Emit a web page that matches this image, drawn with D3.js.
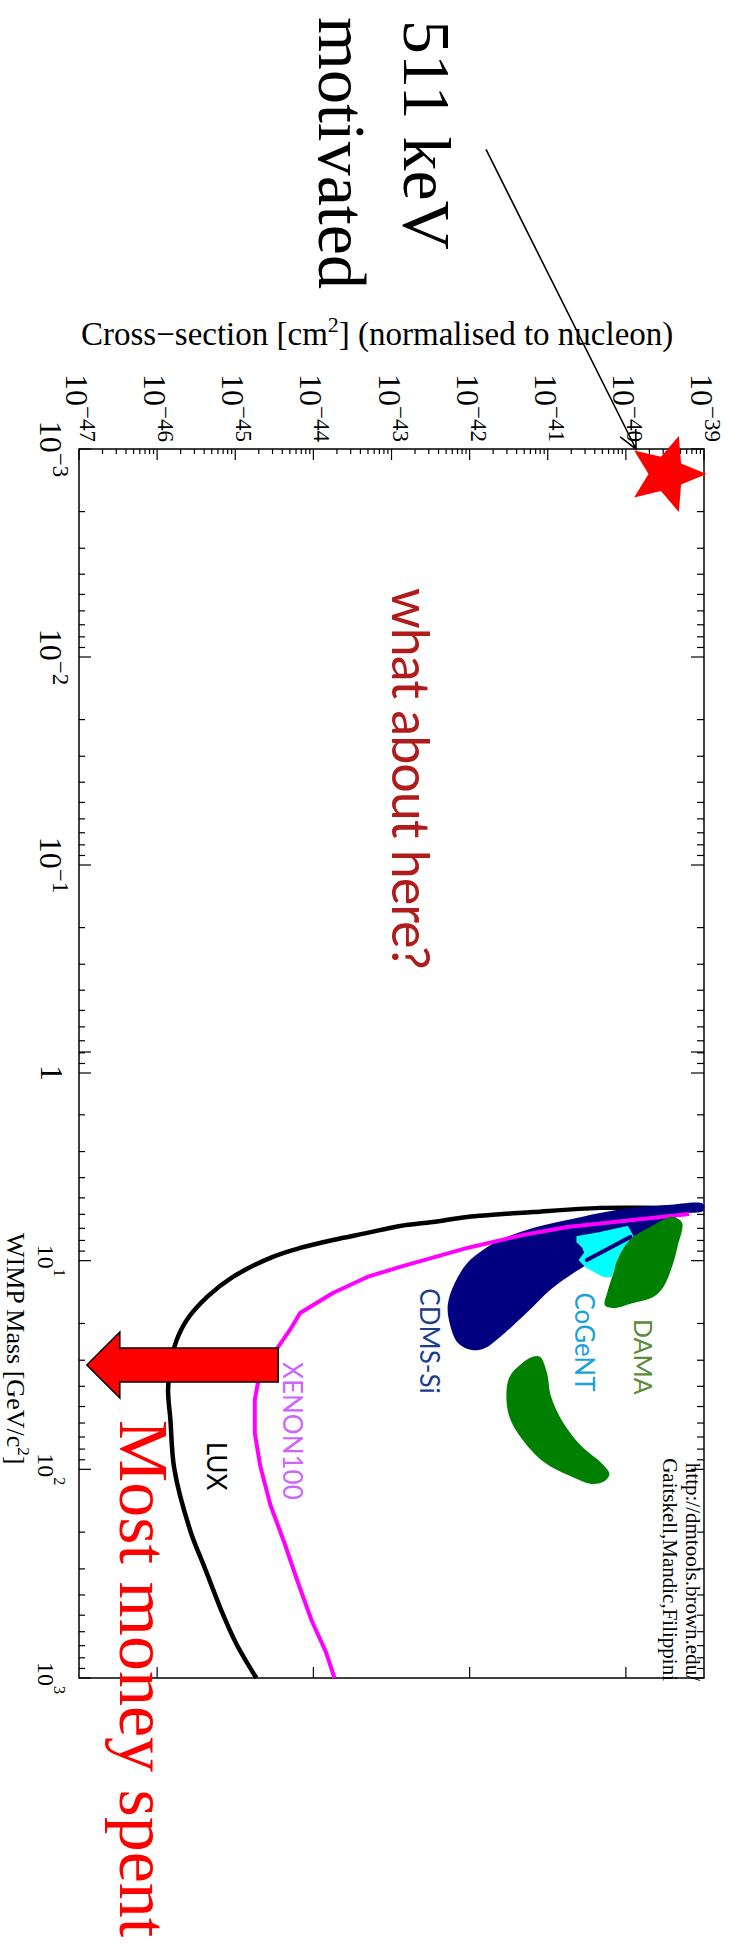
<!DOCTYPE html>
<html>
<head>
<meta charset="utf-8">
<script src="https://cdn.jsdelivr.net/npm/d3@7"></script>
<style>
  body { margin: 0; background: #fff; }
  svg { display: block; }
</style>
</head>
<body>
<div id="chart"></div>
<script>
// values as log10 (mass in GeV/c^2, cross-section in cm^2)
const luxLogMass  = [0.743, 0.747, 0.747, 0.767, 0.791, 0.815, 0.834, 0.867, 0.901, 0.939, 0.982, 1.078, 1.174, 1.284, 1.380, 1.490, 1.620, 1.763, 1.998, 2.300, 2.472, 2.693, 2.841, 3.0]
const luxLogSigma = [-39.18, -39.47, -40.33, -41.19, -42.03, -42.47, -42.89, -43.31, -43.75, -44.17, -44.52, -45.03, -45.36, -45.62, -45.75, -45.83, -45.86, -45.83, -45.78, -45.57, -45.39, -45.16, -44.98, -44.73]

const xenonLogMass  = [0.776, 0.805, 0.839, 0.877, 0.939, 1.030, 1.078, 1.155, 1.251, 1.332, 1.413, 1.500, 1.586, 1.667, 1.826, 1.984, 2.171, 2.353, 2.540, 2.727, 2.875, 3.0]
const xenonLogSigma = [-39.19, -39.91, -40.75, -41.32, -42.03, -42.89, -43.31, -43.75, -44.17, -44.30, -44.45, -44.58, -44.71, -44.75, -44.75, -44.68, -44.55, -44.37, -44.20, -44.02, -43.84, -43.73]

const cdmsLogMass  = [0.728, 0.733, 0.747, 0.771, 0.805, 0.843, 0.901, 0.949, 1.011, 1.107, 1.212, 1.308, 1.394, 1.428, 1.418, 1.366, 1.246, 1.140, 1.059, 0.963, 0.901, 0.839, 0.776, 0.762]
const cdmsLogSigma = [-39.01, -39.47, -39.91, -40.33, -40.75, -41.19, -41.61, -41.83, -42.03, -42.19, -42.28, -42.25, -42.15, -41.97, -41.80, -41.61, -41.26, -40.97, -40.67, -40.24, -39.91, -39.56, -39.27, -39.01]
const cdmsFitLogMass  = [0.886, 0.997]
const cdmsFitLogSigma = [-39.94, -40.50]

const cogentLogMass  = [0.886, 0.867, 0.839, 0.886, 0.934, 0.982, 1.073, 1.073, 1.030, 0.997, 0.963, 0.934, 0.910]
const cogentLogSigma = [-40.62, -40.33, -39.98, -39.91, -40.03, -40.11, -40.19, -40.29, -40.50, -40.59, -40.52, -40.55, -40.62]

const dama1LogMass  = [0.791, 0.819, 0.934, 1.030, 1.126, 1.174, 1.203, 1.227, 1.212, 1.155, 1.059, 0.997, 0.901, 0.839, 0.795]
const dama1LogSigma = [-39.39, -39.28, -39.34, -39.41, -39.52, -39.65, -39.91, -40.16, -40.27, -40.24, -40.16, -40.11, -39.95, -39.69, -39.47]
const dama2LogMass  = [1.461, 1.538, 1.648, 1.778, 1.888, 1.974, 2.022, 2.056, 2.070, 2.036, 1.965, 1.850, 1.749, 1.648, 1.557, 1.495, 1.461]
const dama2LogSigma = [-41.10, -41.01, -40.96, -40.80, -40.57, -40.30, -40.21, -40.27, -40.44, -40.69, -41.05, -41.34, -41.49, -41.53, -41.49, -41.34, -41.19]

// experiment labels: name, log mass, log sigma (baseline point), colour
const labelNames    = ["DAMA", "CoGeNT", "CDMS-Si", "XENON100", "LUX"]
const labelLogMass  = [1.461, 1.390, 1.385, 1.816, 1.984]
const labelLogSigma = [-39.89, -40.65, -42.63, -44.39, -45.36]
const labelColors   = ["#5b8c3a", "#19a1dc", "#1c3d8c", "#cc66ff", "#000000"]

// tick values
const sigmaExponents = [-47, -46, -45, -44, -43, -42, -41, -40, -39]
const sigmaBottomExponents = [-46, -44, -42, -40]
const massLowExponents = [-3, -2, -1, 0]
const massHighExponents = [0, 1, 2, 3]

// annotations (log mass, log sigma)
const starLogMass = -2.88, starLogSigma = -39.48
const pointerFrom = [-4.44, -41.79], pointerTo = [-3.0, -39.87]
const bigArrowLogMass = 1.50, bigArrowFromLogSigma = -44.45, bigArrowToLogSigma = -46.90

const width = 729
const height = 1957
const frame = {left: 79, right: 704, top: 449, bottom: 1678}

const svg = d3.select("#chart")
  .append("svg")
  .attr("width", width)
  .attr("height", height)
  .attr("viewBox", [0, 0, width, height])

const serif = "'Liberation Serif', 'Times New Roman', serif"
const sans = "Lato, 'Open Sans', sans-serif"

const x = d3.scaleLog().domain([1e-47, 1e-39]).range([frame.left, frame.right])
// the mass axis was pasted from two panels that overlap a little around 1 GeV
const yLow = d3.scaleLog().domain([1e-3, 1]).range([frame.top, 1073])
const yHigh = d3.scaleLog().domain([1, 1e3]).range([1052, frame.bottom])
const y = lm => lm < 0 ? yLow(10 ** lm) : yHigh(10 ** lm)
const xs = ls => x(10 ** ls)

const pts = (lm, ls) => lm.map((m, i) => [xs(ls[i]), y(m)])

const layer_frame = svg.append("g")
const layer_data = svg.append("g")
const layer_text = svg.append("g")

// ---- data ----
const line = d3.line().curve(d3.curveCatmullRom.alpha(0.5))
const blob = d3.line().curve(d3.curveCatmullRomClosed.alpha(0.5))

layer_data.append("path")
  .attr("d", line(pts(luxLogMass, luxLogSigma)))
  .attr("fill", "none").attr("stroke", "#000").attr("stroke-width", 4.5)

layer_data.append("path")
  .attr("d", blob(pts(cdmsLogMass, cdmsLogSigma)))
  .attr("fill", "#000080")

layer_data.append("path")
  .attr("d", d3.line()(pts(xenonLogMass, xenonLogSigma)))
  .attr("fill", "none").attr("stroke", "#ff00ff").attr("stroke-width", 4)
  .attr("stroke-linejoin", "round")

layer_data.append("path")
  .attr("d", d3.line().curve(d3.curveLinearClosed)(pts(cogentLogMass, cogentLogSigma)))
  .attr("fill", "#00ffff").attr("stroke", "#00ffff").attr("stroke-width", 2)
  .attr("stroke-linejoin", "round")

layer_data.append("path")
  .attr("d", d3.line()(pts(cdmsFitLogMass, cdmsFitLogSigma)))
  .attr("stroke", "#000080").attr("stroke-width", 4).attr("stroke-linecap", "round")

layer_data.append("path")
  .attr("d", blob(pts(dama1LogMass, dama1LogSigma)))
  .attr("fill", "#008000")
layer_data.append("path")
  .attr("d", blob(pts(dama2LogMass, dama2LogSigma)))
  .attr("fill", "#008000")

labelNames.forEach((name, i) => {
  layer_data.append("text")
    .attr("transform", `translate(${xs(labelLogSigma[i])},${y(labelLogMass[i])}) rotate(90)`)
    .attr("text-anchor", "middle")
    .attr("font-family", sans)
    .attr("font-size", name === "DAMA" ? 25 : 26)
    .attr("fill", labelColors[i])
    .text(name)
})

// ---- frame and ticks ----
layer_frame.append("rect")
  .attr("x", frame.left).attr("y", frame.top)
  .attr("width", frame.right - frame.left).attr("height", frame.bottom - frame.top)
  .attr("fill", "none").attr("stroke", "#000").attr("stroke-width", 1.5)

const sigmaTicks = []
sigmaExponents.forEach(e => {
  for (let k = 1; k < 10; k++) {
    if (e === -39 && k > 1) break
    sigmaTicks.push({v: k * 10 ** e, major: k === 1})
  }
})
layer_frame.append("g").selectAll("line")
  .data(sigmaTicks).join("line")
  .attr("x1", d => x(d.v)).attr("x2", d => x(d.v))
  .attr("y1", frame.top).attr("y2", d => frame.top + (d.major ? 11 : 5))
  .attr("stroke", "#000").attr("stroke-width", 1.2)

layer_frame.append("g").selectAll("line")
  .data(sigmaBottomExponents).join("line")
  .attr("x1", e => xs(e)).attr("x2", e => xs(e))
  .attr("y1", frame.bottom).attr("y2", frame.bottom - 11)
  .attr("stroke", "#000").attr("stroke-width", 1.2)

const massTicks = []
massLowExponents.forEach(e => {
  for (let k = 1; k < 10; k++) {
    if (e === 0 && k > 1) break
    massTicks.push({py: yLow(k * 10 ** e), major: k === 1})
  }
})
massHighExponents.forEach(e => {
  for (let k = 1; k < 10; k++) {
    if (e === 3 && k > 1) break
    massTicks.push({py: yHigh(k * 10 ** e), major: k === 1})
  }
})
const mt = layer_frame.append("g")
mt.selectAll(".l").data(massTicks).join("line").attr("class", "l")
  .attr("x1", frame.left).attr("x2", d => frame.left + (d.major ? 12 : 6))
  .attr("y1", d => d.py).attr("y2", d => d.py)
  .attr("stroke", "#000").attr("stroke-width", 1.2)
mt.selectAll(".r").data(massTicks).join("line").attr("class", "r")
  .attr("x1", frame.right).attr("x2", d => frame.right - (d.major ? 13 : 7))
  .attr("y1", d => d.py).attr("y2", d => d.py)
  .attr("stroke", "#000").attr("stroke-width", 1.2)

// ---- tick labels (everything is turned a quarter turn clockwise) ----
function powText(g, px, py, anchor, size, supSize, rise, base, exp) {
  const t = g.append("text")
    .attr("transform", `translate(${px},${py}) rotate(90)`)
    .attr("text-anchor", anchor)
    .attr("font-family", serif)
    .attr("font-size", size)
    .attr("fill", "#000")
  t.append("tspan").text(base)
  if (exp !== null) t.append("tspan").attr("dy", -rise).attr("font-size", supSize).text(exp)
  return t
}

sigmaExponents.forEach(e => {
  powText(layer_text, xs(e) - 13, frame.top - 7, "end", 32, 23, 14, "10", "\u2212" + (-e))
})
massLowExponents.forEach(e => {
  if (e === 0) powText(layer_text, 41, yLow(1), "middle", 32, 23, 13, "1", null)
  else powText(layer_text, 40, yLow(10 ** e), "middle", 32, 23, 13, "10", "\u2212" + (-e))
})
massHighExponents.slice(1).forEach(e => {
  powText(layer_text, 38, yHigh(10 ** e), "middle", 24, 16, 16, "10", String(e))
})

// axis titles
const xt = layer_text.append("text")
  .attr("x", 81).attr("y", 345)
  .attr("font-family", serif).attr("font-size", 33)
xt.append("tspan").text("Cross\u2212section [cm")
xt.append("tspan").attr("dy", -13).attr("font-size", 22).text("2")
xt.append("tspan").attr("dy", 13).text("] (normalised to nucleon)")

const yt = layer_text.append("text")
  .attr("transform", `translate(7,1233) rotate(90)`)
  .attr("font-family", serif).attr("font-size", 26)
yt.append("tspan").text("WIMP Mass [GeV/c")
yt.append("tspan").attr("dy", -11).attr("font-size", 17).text("2")
yt.append("tspan").attr("dy", 11).text("]")

// credit
;[["http://dmtools.brown.edu/", 686], ["Gaitskell,Mandic,Filippini", 663]].forEach(([s, bx]) => {
  layer_text.append("text")
    .attr("transform", `translate(${bx},1681) rotate(90)`)
    .attr("text-anchor", "end")
    .attr("font-family", serif).attr("font-size", 21)
    .text(s)
})

// ---- annotations ----
const starR = 40, starr = 18
const starPts = d3.range(10).map(i => {
  const a = i * Math.PI / 5
  const r = i % 2 === 0 ? starR : starr
  return [xs(starLogSigma) + r * Math.cos(a), y(starLogMass) + r * Math.sin(a)]
})
layer_text.append("path")
  .attr("d", d3.line().curve(d3.curveLinearClosed)(starPts))
  .attr("fill", "#ff0000")

// pointer from "511 keV" to the top axis
const p0 = [xs(pointerFrom[1]), yLow(10 ** pointerFrom[0])]
const p1 = [xs(pointerTo[1]), yLow(10 ** pointerTo[0])]
const ang = Math.atan2(p1[1] - p0[1], p1[0] - p0[0])
const head = [-0.45, 0.45].map(da => [p1[0] - 20 * Math.cos(ang + da), p1[1] - 20 * Math.sin(ang + da)])
layer_text.append("path")
  .attr("d", `M${p0}L${p1}M${head[0]}L${p1}L${head[1]}`)
  .attr("fill", "none").attr("stroke", "#000").attr("stroke-width", 1.6)

// big block arrow pointing to lower cross-sections
const ay = yHigh(10 ** bigArrowLogMass)
const ax0 = xs(bigArrowFromLogSigma), ax1 = xs(bigArrowToLogSigma)
const shaft = 17, headW = 33, headL = 33
layer_text.append("path")
  .attr("d", `M${ax0},${ay - shaft}H${ax1 + headL}V${ay - headW}L${ax1},${ay}L${ax1 + headL},${ay + headW}V${ay + shaft}H${ax0}Z`)
  .attr("fill", "#ff0000").attr("stroke", "#000").attr("stroke-width", 1.5)

function bigText(px, py, size, fam, fill, s, spacing) {
  layer_text.append("text")
    .attr("transform", `translate(${px},${py}) rotate(90)`)
    .attr("font-family", fam).attr("font-size", size).attr("fill", fill)
    .attr("letter-spacing", spacing || 0)
    .text(s)
}
bigText(404, 20, 68, serif, "#000", "511 keV")
bigText(319, 17, 68, serif, "#000", "motivated")
bigText(392, 588, 52, sans, "#b01c1c", "what about here?", -1)
bigText(120, 1420, 70, serif, "#ff0000", "Most money spent")
</script>
</body>
</html>
